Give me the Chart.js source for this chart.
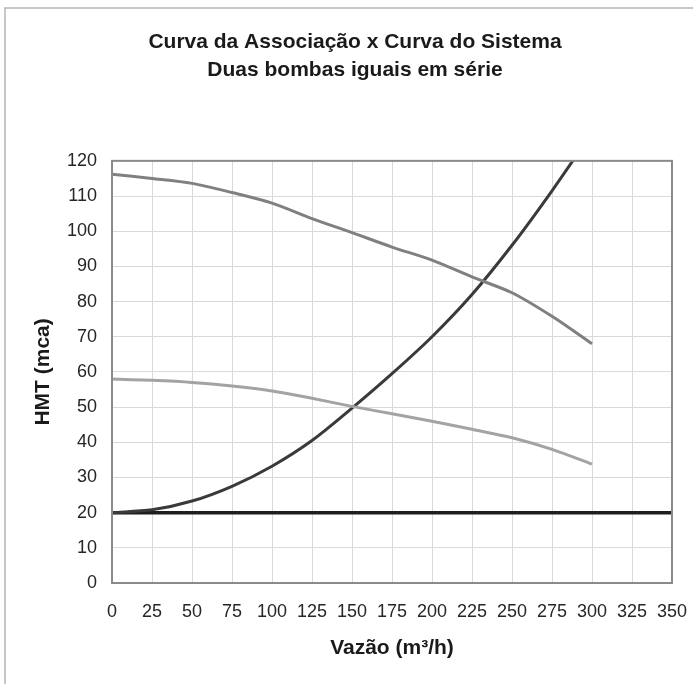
<!DOCTYPE html>
<html>
<head>
<meta charset="utf-8">
<script src="https://cdn.jsdelivr.net/npm/chart.js@4/dist/chart.umd.min.js"></script>
<style>
  html, body { margin: 0; padding: 0; background: #fff; }
  #wrap { position: relative; width: 693px; height: 684px; }
</style>
</head>
<body>
<div id="wrap"><canvas id="curvas" width="693" height="684"></canvas></div>
<script>
// --- dados ---
const vazao = [0, 25, 50, 75, 100, 125, 150, 175, 200, 225, 250, 275, 300];
const hmtSerie = [116.2, 115, 113.6, 111, 108, 103.6, 99.6, 95.5, 91.8, 87, 82.5, 75.8, 68];
const hmtUmaBomba = [58, 57.6, 57, 56, 54.6, 52.5, 50.2, 48.1, 46, 43.7, 41.3, 38, 33.8];
const hmtSistema = [20, 20.8, 23.3, 27.5, 33.2, 40.5, 49.7, 59.5, 70, 82, 96, 111.5, 128];
const estaticaX = [0, 350];
const estaticaY = [20, 20];

const xTicks = [0, 25, 50, 75, 100, 125, 150, 175, 200, 225, 250, 275, 300, 325, 350];
const yTicks = [0, 10, 20, 30, 40, 50, 60, 70, 80, 90, 100, 110, 120];

const pontos = (xs, ys) => xs.map((x, i) => ({ x: x, y: ys[i] }));

// moldura externa + borda da área do gráfico
const molduras = {
  id: 'molduras',
  beforeDraw(chart) {
    const c = chart.ctx;
    c.save();
    c.fillStyle = '#fff';
    c.fillRect(0, 0, chart.width, chart.height);
    c.strokeStyle = '#b5b5b5';
    c.lineWidth = 1.5;
    c.beginPath();
    c.moveTo(5, chart.height);
    c.lineTo(5, 8);
    c.lineTo(chart.width, 8);
    c.stroke();
    c.restore();
  },
  afterDatasetsDraw(chart) {
    const a = chart.chartArea;
    const c = chart.ctx;
    c.save();
    c.strokeStyle = '#8a8a8a';
    c.lineWidth = 2;
    c.strokeRect(a.left, a.top, a.right - a.left, a.bottom - a.top);
    c.restore();
  }
};

const fonte = "'Liberation Sans', Arial, sans-serif";

new Chart(document.getElementById('curvas').getContext('2d'), {
  type: 'line',
  data: {
    datasets: [
      {
        label: 'Duas bombas em série',
        data: pontos(vazao, hmtSerie),
        borderColor: '#808080',
        borderWidth: 3,
        tension: 0.3
      },
      {
        label: 'Uma bomba',
        data: pontos(vazao, hmtUmaBomba),
        borderColor: '#a3a3a3',
        borderWidth: 3,
        tension: 0.3
      },
      {
        label: 'Curva do sistema',
        data: pontos(vazao, hmtSistema),
        borderColor: '#3a3a3a',
        borderWidth: 3,
        tension: 0.3
      },
      {
        label: 'Altura estática',
        data: pontos(estaticaX, estaticaY),
        borderColor: '#1e1e1e',
        borderWidth: 3.5,
        tension: 0
      }
    ]
  },
  options: {
    responsive: false,
    animation: false,
    layout: { padding: { top: 0, right: 0, bottom: 0, left: 17 } },
    elements: { point: { radius: 0, hoverRadius: 0 } },
    plugins: {
      legend: { display: false },
      tooltip: { enabled: false },
      title: {
        display: true,
        text: ['Curva da Associação x Curva do Sistema', 'Duas bombas iguais em série'],
        color: '#1a1a1a',
        font: { family: fonte, size: 21, weight: 'bold', lineHeight: 1.33 },
        padding: { top: 28, bottom: 77 }
      }
    },
    scales: {
      x: {
        type: 'linear',
        min: 0,
        max: 350,
        afterBuildTicks: (s) => { s.ticks = xTicks.map(v => ({ value: v })); },
        afterFit: (s) => { s.height = 101; s.paddingLeft = 0; s.paddingRight = 21; },
        grid: { color: '#d9d9d9', lineWidth: 1, drawTicks: false },
        border: { display: false },
        ticks: { color: '#262626', padding: 18, maxRotation: 0, autoSkip: false, font: { family: fonte, size: 18 } },
        title: {
          display: true,
          text: 'Vazão (m³/h)',
          color: '#1a1a1a',
          font: { family: fonte, size: 21, weight: 'bold' },
          padding: { top: 0, bottom: 23 }
        }
      },
      y: {
        type: 'linear',
        min: 0,
        max: 120,
        afterBuildTicks: (s) => { s.ticks = yTicks.map(v => ({ value: v })); },
        afterFit: (s) => { s.width = 95; },
        grid: { color: '#d9d9d9', lineWidth: 1, drawTicks: false },
        border: { display: false },
        ticks: { color: '#262626', padding: 15, font: { family: fonte, size: 18 } },
        title: {
          display: true,
          text: 'HMT (mca)',
          color: '#1a1a1a',
          font: { family: fonte, size: 21, weight: 'bold' },
          padding: { top: 14, bottom: 0 }
        }
      }
    }
  },
  plugins: [molduras]
});
</script>
</body>
</html>
